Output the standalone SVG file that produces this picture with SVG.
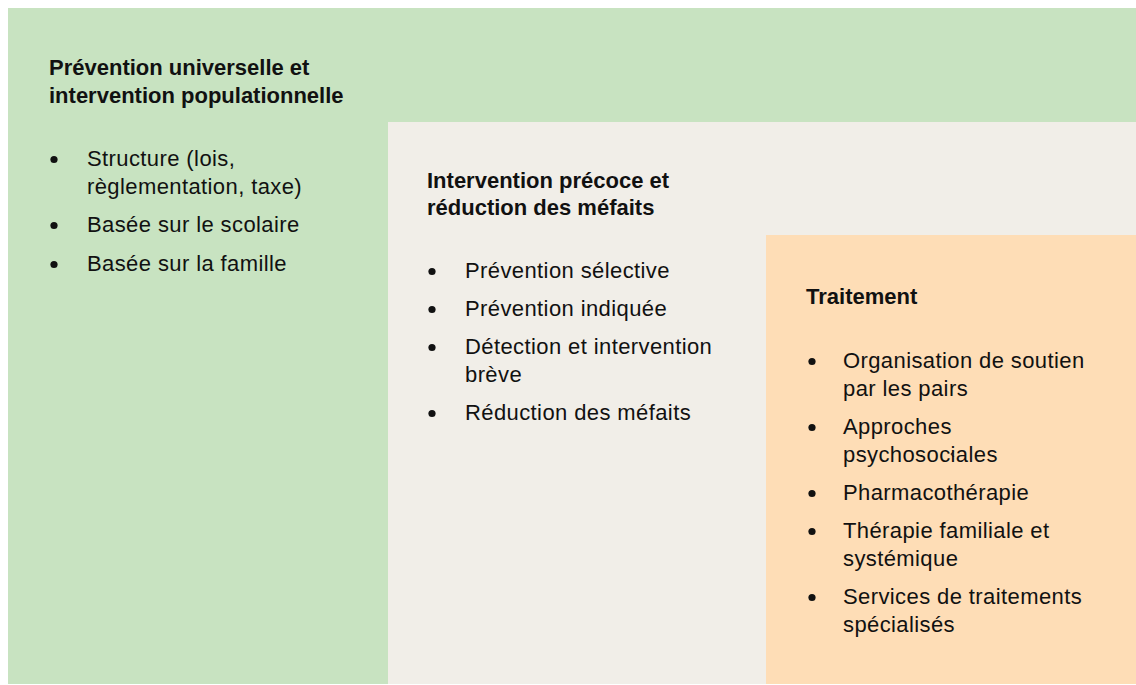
<svg xmlns="http://www.w3.org/2000/svg" width="1136" height="685" viewBox="0 0 1136 685">
<style>
text{font-family:"Liberation Sans",Arial,sans-serif;fill:#111;}
.t{font-size:22px;font-weight:bold;}
.b{font-size:22px;letter-spacing:0.4px;}
.dot{fill:#111;}
</style>
<rect x="0" y="0" width="1136" height="685" fill="#ffffff"/>
<g id="universelle">
<rect x="8" y="8" width="1128" height="676" fill="#C8E3C1"/>
<text class="t" x="49" y="75">Prévention universelle et</text>
<text class="t" x="49" y="103">intervention populationnelle</text>
<circle class="dot" cx="54" cy="159.5" r="3.6"/>
<text class="b" x="87" y="166">Structure (lois,</text>
<text class="b" x="87" y="194">règlementation, taxe)</text>
<circle class="dot" cx="54" cy="225.5" r="3.6"/>
<text class="b" x="87" y="232">Basée sur le scolaire</text>
<circle class="dot" cx="54" cy="264.5" r="3.6"/>
<text class="b" x="87" y="271">Basée sur la famille</text>
</g>
<g id="precoce">
<rect x="388" y="122" width="748" height="562" fill="#F1EEE8"/>
<text class="t" x="427" y="188">Intervention précoce et</text>
<text class="t" x="427" y="215">réduction des méfaits</text>
<circle class="dot" cx="432" cy="271.5" r="3.6"/>
<text class="b" x="465" y="278">Prévention sélective</text>
<circle class="dot" cx="432" cy="309.5" r="3.6"/>
<text class="b" x="465" y="316">Prévention indiquée</text>
<circle class="dot" cx="432" cy="347.5" r="3.6"/>
<text class="b" x="465" y="354">Détection et intervention</text>
<text class="b" x="465" y="382">brève</text>
<circle class="dot" cx="432" cy="413.5" r="3.6"/>
<text class="b" x="465" y="420">Réduction des méfaits</text>
</g>
<g id="traitement">
<rect x="766" y="235" width="370" height="449" fill="#FEDDB6"/>
<text class="t" x="806" y="304">Traitement</text>
<circle class="dot" cx="812" cy="361.5" r="3.6"/>
<text class="b" x="843" y="368">Organisation de soutien</text>
<text class="b" x="843" y="396">par les pairs</text>
<circle class="dot" cx="812" cy="427.5" r="3.6"/>
<text class="b" x="843" y="434">Approches</text>
<text class="b" x="843" y="462">psychosociales</text>
<text x="950" y="458" style="font-size:14px">‹</text>
<circle class="dot" cx="812" cy="493.5" r="3.6"/>
<text class="b" x="843" y="500">Pharmacothérapie</text>
<circle class="dot" cx="812" cy="531.5" r="3.6"/>
<text class="b" x="843" y="538">Thérapie familiale et</text>
<text class="b" x="843" y="566">systémique</text>
<circle class="dot" cx="812" cy="597.5" r="3.6"/>
<text class="b" x="843" y="604">Services de traitements</text>
<text class="b" x="843" y="632">spécialisés</text>
</g>
</svg>
